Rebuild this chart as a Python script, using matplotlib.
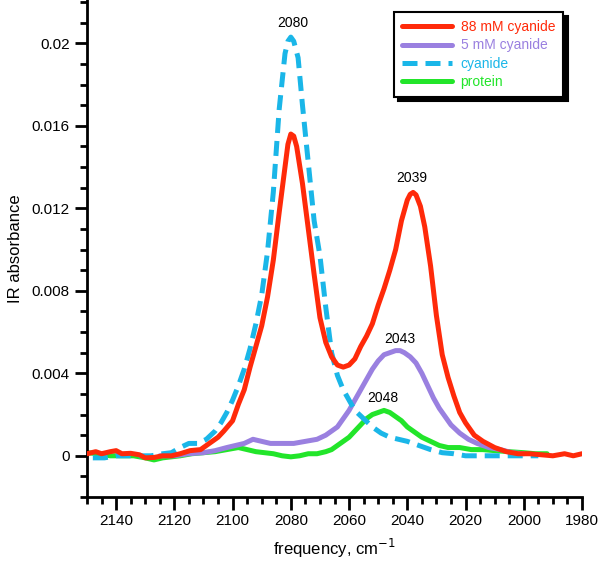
import numpy as np
import matplotlib
matplotlib.use("Agg")
import matplotlib.pyplot as plt
from matplotlib.ticker import MultipleLocator, FormatStrFormatter

plt.rcParams['font.family'] = ['Liberation Sans', 'DejaVu Sans']

# 88 mM cyanide
f_red = [2150, 2147, 2145, 2142, 2140, 2138, 2135, 2132, 2130, 2127, 2124, 2121, 2118,
         2114.6, 2111, 2107, 2105, 2103, 2100, 2098, 2096, 2094, 2092, 2090, 2088, 2086,
         2084, 2082, 2081, 2080, 2079, 2078, 2076, 2074, 2072, 2070, 2068, 2066, 2064, 2062,
         2060, 2058, 2056, 2054, 2052, 2050, 2048, 2046, 2044, 2042, 2040, 2039, 2038,
         2037, 2035.5, 2034, 2032, 2030, 2028, 2026, 2024, 2022, 2020, 2017, 2014, 2010,
         2006, 2002, 1998, 1994, 1990, 1986, 1983, 1980]
a_red = [0.0001, 0.0002, 0.0001, 0.0002, 0.00025, 0.0001, 0.00012, 0.00005, -0.0001, -0.00008,
         0.0, 0.0, 0.0001, 0.00025, 0.0003, 0.0007, 0.0009, 0.0012, 0.0017, 0.0025, 0.0032,
         0.0043, 0.0053, 0.0063, 0.0077, 0.0095, 0.0118, 0.0140, 0.0151, 0.0156, 0.0155,
         0.0150, 0.0132, 0.0110, 0.0088, 0.0067, 0.0055, 0.0048, 0.0044, 0.0043, 0.0044,
         0.0047, 0.0053, 0.0058, 0.0064, 0.0073, 0.0081, 0.0090, 0.0100, 0.0114, 0.0124,
         0.01268, 0.01277, 0.01265, 0.0121, 0.0111, 0.0092, 0.0068, 0.0049, 0.0038, 0.0029,
         0.0021, 0.0016, 0.0010, 0.0007, 0.0004, 0.0002, 0.0001, 0.0001, 0.00005, 0.0,
         0.0001, 0.0, 0.0001]

# 5 mM cyanide
f_pur = [2125, 2120, 2115, 2110, 2106, 2102, 2099, 2096, 2093, 2090, 2087, 2083, 2079, 2075,
         2071, 2068, 2066, 2064, 2062, 2060, 2058, 2056, 2054, 2052, 2050, 2048, 2046, 2044,
         2042.5, 2041, 2039, 2037, 2035, 2033, 2031, 2029, 2027, 2025, 2022, 2019, 2016,
         2012, 2008, 2004, 2000]
a_pur = [0.0, 0.0, 0.0001, 0.00015, 0.00025, 0.0004, 0.0005, 0.0006, 0.0008, 0.0007, 0.0006,
         0.0006, 0.0006, 0.0007, 0.0008, 0.0010, 0.0012, 0.0014, 0.0018, 0.0022, 0.0027,
         0.0032, 0.0037, 0.0042, 0.0046, 0.0049, 0.0050, 0.0051, 0.0051, 0.0050, 0.0048,
         0.0045, 0.0040, 0.0034, 0.0028, 0.0023, 0.0019, 0.0015, 0.0011, 0.0008, 0.0006,
         0.0004, 0.0003, 0.00015, 0.0001]

# cyanide
f_blu = [2148, 2144, 2140, 2136, 2132, 2128, 2124, 2121, 2118, 2115, 2112, 2109, 2106, 2104,
         2102, 2100, 2098, 2096, 2094, 2092, 2090, 2088, 2086, 2084, 2082, 2081, 2080, 2079,
         2077.5, 2076, 2074, 2072, 2070, 2068, 2066, 2064, 2062, 2060, 2058, 2055, 2052,
         2049, 2046, 2043, 2040, 2036, 2032, 2028, 2024, 2020, 2015, 2010, 2005, 2000, 1995]
a_blu = [-0.0001, -0.0001, 0.0, 0.0, 0.0, 0.0, 0.0001, 0.00015, 0.0004, 0.0006, 0.0006, 0.0008,
         0.0012, 0.0016, 0.0021, 0.0027, 0.0034, 0.0042, 0.0052, 0.0064, 0.0078, 0.0099,
         0.0128, 0.0168, 0.0195, 0.0201, 0.0203, 0.0201, 0.0193, 0.0170, 0.0142, 0.0114,
         0.0097, 0.0072, 0.0050, 0.0039, 0.0032, 0.0027, 0.0022, 0.0018, 0.0014, 0.0011,
         0.0009, 0.0008, 0.0007, 0.0005, 0.0003, 0.00015, 0.0001, 0.0, 0.0, 0.0, 0.0, 0.0, 0.0]

# protein
f_grn = [2150, 2146, 2142, 2138, 2134, 2130, 2127, 2124, 2121, 2118, 2114, 2110, 2106, 2102,
         2098, 2095, 2092, 2089, 2086, 2083, 2080, 2077, 2074, 2071, 2068, 2066, 2064, 2062,
         2060, 2058, 2056, 2054, 2052, 2050, 2048, 2046, 2044, 2042, 2040, 2038, 2035, 2032,
         2029, 2026, 2022, 2018, 2014, 2010, 2005, 2000, 1996, 1992]
a_grn = [0.00015, 0.0001, 0.0, 0.0, 0.0, -0.0001, -0.0002, -0.0001, -0.00005, 0.0, 0.0001,
         0.00015, 0.0002, 0.0003, 0.0004, 0.0003, 0.0002, 0.00015, 0.0001, 0.0, -0.00005, 0.0,
         0.0001, 0.0001, 0.0002, 0.0003, 0.0005, 0.0007, 0.0009, 0.0012, 0.0015, 0.0018,
         0.0020, 0.0021, 0.0022, 0.0021, 0.0019, 0.0017, 0.0014, 0.0012, 0.0009, 0.0007,
         0.0005, 0.0004, 0.0004, 0.0003, 0.0003, 0.00025, 0.0002, 0.00015, 0.0001, 0.0001]

# peak labels
peak_text = ['2080', '2039', '2043', '2048']
peak_f = [2079.3, 2038.4, 2042.5, 2048.3]
peak_a = [0.0210, 0.01345, 0.00568, 0.00282]

c_red = '#ff2a0a'
c_pur = '#9a80e0'
c_blu = '#1ab6e8'
c_grn = '#22e52a'

fig = plt.figure(figsize=(6, 5.61), dpi=100)
ax = fig.add_axes([0.145, 0.114, 0.825, 0.886])

lw = 3.6
style = dict(lw=lw, solid_joinstyle='round', solid_capstyle='round')
l_grn, = ax.plot(f_grn, a_grn, color=c_grn, label='protein', zorder=2, **style)
l_pur, = ax.plot(f_pur, a_pur, color=c_pur, label='5 mM cyanide', zorder=3, **style)
l_blu, = ax.plot(f_blu, a_blu, color=c_blu, lw=lw, ls=(0, (3.0, 1.6)),
                 dash_joinstyle='round', label='cyanide', zorder=4)
l_red, = ax.plot(f_red, a_red, color=c_red, label='88 mM cyanide', zorder=5, **style)

for t, x, y in zip(peak_text, peak_f, peak_a):
    ax.text(x, y, t, ha='center', va='center', fontsize=10)

ax.set_xlim(2150, 1980)
ax.set_ylim(-0.002, 0.0221)
ax.xaxis.set_major_locator(MultipleLocator(20))
ax.xaxis.set_minor_locator(MultipleLocator(5))
ax.yaxis.set_major_locator(MultipleLocator(0.004))
ax.yaxis.set_minor_locator(MultipleLocator(0.001))
ax.yaxis.set_major_formatter(FormatStrFormatter('%g'))

for s in ['top', 'right']:
    ax.spines[s].set_visible(False)
for s in ['left', 'bottom']:
    ax.spines[s].set_linewidth(2)
ax.tick_params(which='major', direction='out', length=9, width=2, labelsize=11)
ax.tick_params(which='minor', direction='out', length=5, width=2)

ax.set_xlabel('frequency, cm$^{-1}$', fontsize=12, labelpad=6)
ax.set_ylabel('IR absorbance', fontsize=12, labelpad=6)

leg = ax.legend(handles=[l_red, l_pur, l_blu, l_grn], loc='upper left',
                bbox_to_anchor=(0.62, 0.976), borderaxespad=0, fancybox=False,
                shadow={'color': 'black', 'alpha': 1, 'ox': 3, 'oy': -3},
                framealpha=1, edgecolor='black', labelcolor='linecolor',
                fontsize=10, handlelength=3.6, borderpad=0.6,
                labelspacing=0.3, handletextpad=0.6)
leg.get_frame().set_linewidth(1.5)

fig.savefig('out.png', dpi=100)
